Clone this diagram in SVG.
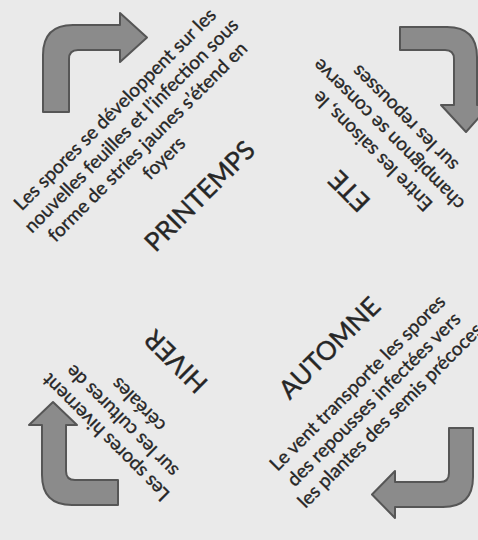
<svg xmlns="http://www.w3.org/2000/svg" width="478" height="540" viewBox="0 0 478 540">
<style>
.bg{fill:#eaeaea}
.arr{fill:#8b8b8b;stroke:#565656;stroke-width:2;stroke-linejoin:round}
.t{font-family:Lato,"Liberation Sans",sans-serif;font-size:19px;fill:#262626;stroke:#262626;stroke-width:0.35;text-anchor:middle}
.h{font-family:Lato,"Liberation Sans",sans-serif;font-size:26px;fill:#262626;stroke:#262626;stroke-width:0.4;text-anchor:middle}
</style>
<rect class="bg" x="0" y="0" width="478" height="540"/>
<g id="connectors">
<path class="arr" d="M43,112 L43,55 Q43,25 73,25 L120,25 L120,13 L147,37.5 L120,62 L120,50 L78,50 Q69,50 69,59 L69,112 Z"/>
<path class="arr" d="M400,27 L447,27 Q477,27 477,57 L477,105 L490,105 L466,132 L441,105 L454,105 L454,59 Q454,50 445,50 L400,50 Z"/>
<path class="arr" d="M118,505 L72,505 Q42,505 42,475 L42,425 L29,425 L53,402 L77,425 L66,425 L66,471 Q66,480 75,480 L118,480 Z"/>
<path class="arr" d="M449,428 L473,428 L473,477 Q473,507 443,507 L395,507 L395,518 L372,494.5 L395,471 L395,482 L440,482 Q449,482 449,473 Z"/>
</g>
<g id="printemps" transform="translate(119.5,113.8) rotate(-45)">
<text class="t" x="0" y="0">Les spores se développent sur les</text>
<text class="t" x="0" y="23">nouvelles feuilles et l’infection sous</text>
<text class="t" x="0" y="46">forme de stries jaunes s’étend en</text>
<text class="t" x="0" y="69">foyers</text>
<text class="h" x="-1.5" y="124">PRINTEMPS</text>
</g>
<g id="ete" transform="translate(376.9,146.4) rotate(225)">
<text class="t" x="0" y="0">Entre les saisons, le</text>
<text class="t" x="0" y="23">champignon se conserve</text>
<text class="t" x="0" y="46">sur les repousses</text>
<text class="h" x="-12" y="-42">ETE</text>
</g>
<g id="automne" transform="translate(362,387.5) rotate(-45)">
<text class="t" x="0" y="0">Le vent transporte les spores</text>
<text class="t" x="0" y="23">des repousses infectées vers</text>
<text class="t" x="0" y="46">les plantes des semis précoces</text>
<text class="h" x="5" y="-42">AUTOMNE</text>
</g>
<g id="hiver" transform="translate(110.3,432.8) rotate(225)">
<text class="t" x="0" y="0">Les spores hivernent</text>
<text class="t" x="0" y="23">sur les cultures de</text>
<text class="t" x="0" y="46">céréales</text>
<text class="h" x="4" y="106">HIVER</text>
</g>
</svg>
